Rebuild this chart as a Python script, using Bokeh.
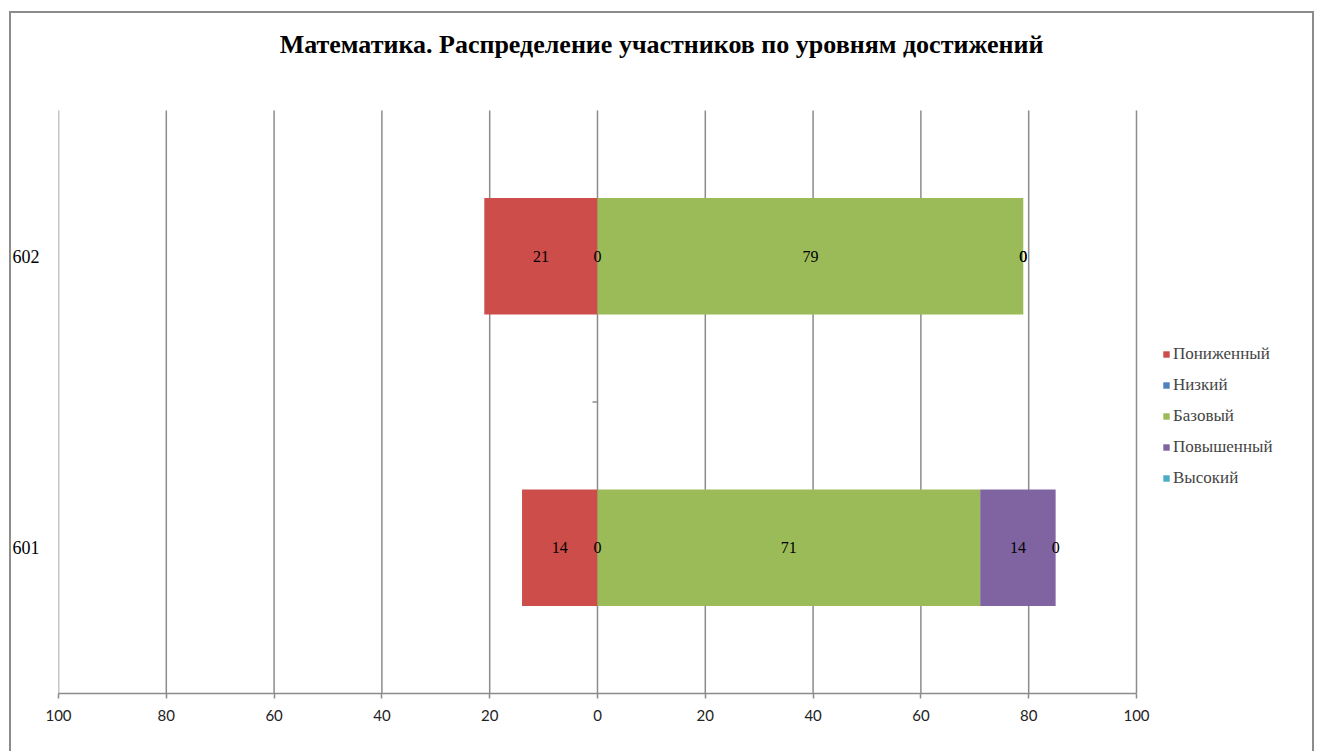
import math
from bokeh.plotting import figure
from bokeh.models import ColumnDataSource, Legend, LegendItem, FixedTicker, Label
from bokeh.core.properties import value
from bokeh.embed import file_html
from bokeh.resources import INLINE

categories = ["601", "602"]
ponizh = [14, 21]      # Пониженный
nizkiy = [0, 0]        # Низкий
bazoviy = [71, 79]     # Базовый
povysh = [14, 0]       # Повышенный
vysokiy = [0, 0]       # Высокий

series_names = ["Пониженный", "Низкий", "Базовый", "Повышенный", "Высокий"]
colors = ["#CC4D4A", "#4F81BD", "#9BBB59", "#8064A2", "#4BACC6"]
xticks = [-100, -80, -60, -40, -20, 0, 20, 40, 60, 80, 100]
title_text = "Математика. Распределение участников по уровням достижений"

ypos = list(range(1, len(categories) + 1))   # numeric category positions

W, H = 1320, 751
p = figure(width=W, height=H, x_range=(-100, 132.47), y_range=(0.5, 2.833),
           output_backend="svg", toolbar_location=None,
           min_border_left=58, min_border_right=9, min_border_top=13, min_border_bottom=58)
p.outline_line_color = None
p.background_fill_color = None
p.border_fill_color = None
g = "linear-gradient(#8c8c8c,#8c8c8c)"
p.styles = {"background": f"{g} 9px 11px / 2px 100% no-repeat, "
                          f"{g} 1312px 11px / 2px 100% no-repeat, "
                          f"{g} 9px 11px / 1305px 2px no-repeat, white"}
p.xgrid.visible = False
p.ygrid.visible = False

# vertical grid lines (incl. the zero category axis), limited to the plot area
y_lo, y_hi = ypos[0] - 0.5, ypos[-1] + 0.5
p.segment(x0=xticks, x1=xticks, y0=[y_lo] * len(xticks), y1=[y_hi] * len(xticks),
          line_color="#8c8c8c", line_width=1.5)
# tick mark on the category axis between the categories
p.ray(x=[0], y=[(ypos[0] + ypos[1]) / 2], length=5, length_units="screen", angle=math.pi,
      line_color="#8c8c8c", line_width=1.5)

# segments: negative side stacks Низкий next to zero, then Пониженный
n = len(categories)
niz_l = [-v for v in nizkiy]
niz_r = [0] * n
pon_r = niz_l
pon_l = [a - b for a, b in zip(niz_l, ponizh)]
baz_l = [0] * n
baz_r = list(bazoviy)
pov_l = baz_r
pov_r = [a + b for a, b in zip(baz_r, povysh)]
vys_l = pov_r
vys_r = [a + b for a, b in zip(pov_r, vysokiy)]

segs = [(pon_l, pon_r, ponizh), (niz_l, niz_r, nizkiy), (baz_l, baz_r, bazoviy),
        (pov_l, pov_r, povysh), (vys_l, vys_r, vysokiy)]

renderers = []
sources = []
for (l, r, vals), col in zip(segs, colors):
    src = ColumnDataSource(dict(y=ypos, left=l, right=r,
                                xc=[(a + b) / 2 for a, b in zip(l, r)],
                                txt=[str(v) for v in vals]))
    sources.append(src)
    rr = p.hbar(y="y", left="left", right="right", height=0.4, source=src,
                fill_color=col, line_color=None)
    renderers.append(rr)

for src in sources:
    p.text(x="xc", y="y", text="txt", source=src, text_align="center", text_baseline="middle",
           text_font=value("Liberation Serif"), text_font_size="16px", text_color="#000000")

xa = p.xaxis[0]
xa.ticker = FixedTicker(ticks=xticks)
xa.bounds = (xticks[0], xticks[-1])
xa.major_label_overrides = {t: str(abs(t)) for t in xticks}
xa.axis_line_color = "#8c8c8c"
xa.axis_line_width = 1.5
xa.major_tick_line_color = "#8c8c8c"
xa.major_tick_line_width = 1.5
xa.major_tick_in = 0
xa.major_tick_out = 5
xa.minor_tick_line_color = None
xa.major_label_standoff = 11
xa.major_label_text_font = "Lato"
xa.major_label_text_font_size = "15px"
xa.major_label_text_color = "#222222"

ya = p.yaxis[0]
ya.ticker = FixedTicker(ticks=ypos)
ya.major_label_overrides = {y: c for y, c in zip(ypos, categories)}
ya.axis_line_color = None
ya.major_tick_line_color = None
ya.minor_tick_line_color = None
ya.major_label_standoff = 13
ya.major_label_text_font = "Liberation Serif"
ya.major_label_text_font_size = "18px"
ya.major_label_text_color = "#000000"

p.add_layout(Label(x=603, y=649, x_units="screen", y_units="screen", text=title_text,
                   text_align="center", text_baseline="middle", text_font="Liberation Serif",
                   text_font_size="26px", text_font_style="bold", text_color="#000000"))

legend = Legend(items=[LegendItem(label=nm, renderers=[rr]) for nm, rr in zip(series_names, renderers)],
                location=(1104, 205), orientation="vertical",
                glyph_width=8, glyph_height=8, label_text_font="Liberation Serif",
                label_text_font_size="17px", label_height=20, spacing=11, padding=6, margin=0,
                label_standoff=3, background_fill_alpha=0, border_line_color=None)
p.add_layout(legend, "center")

open("out.html", "w").write(file_html(p, INLINE))
